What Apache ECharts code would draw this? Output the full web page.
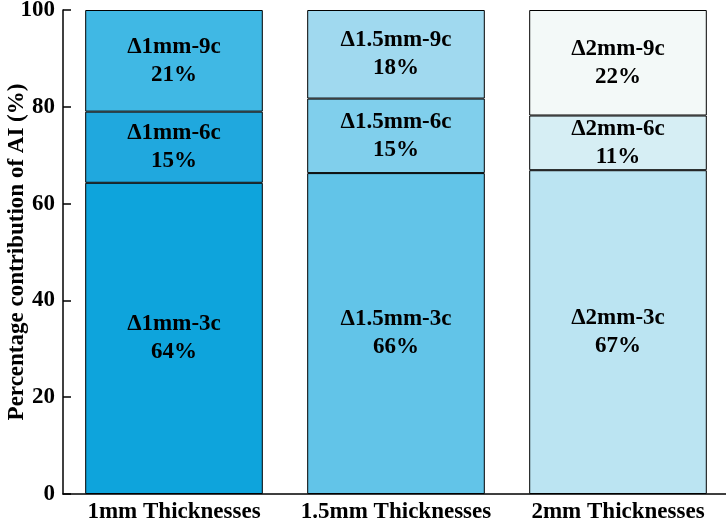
<!DOCTYPE html>
<html>
<head>
<meta charset="utf-8">
<script src="https://cdn.jsdelivr.net/npm/echarts@6/dist/echarts.min.js"></script>
<style>
  html, body { margin: 0; padding: 0; background: #fff; }
  #chart { width: 726px; height: 524px; }
</style>
</head>
<body>
<div id="chart"></div>
<script>
// categories and stacked values (percent contribution)
const categories = ['1mm Thicknesses', '1.5mm Thicknesses', '2mm Thicknesses']
const thickness = ['1mm', '1.5mm', '2mm']
const cycles = ['3c', '6c', '9c']
const values3c = [64.3, 66.3, 66.9]
const values6c = [14.7, 15.4, 11.3]
const values9c = [21.0, 18.3, 21.8]
const yTicks = [0, 20, 40, 60, 80, 100]

const colors = [
  ['#0ea4dc', '#62c4e8', '#bbe4f2'], // 3c
  ['#20a8de', '#80cfec', '#d6eef4'], // 6c
  ['#40b8e4', '#a0d9ef', '#f3f9f8']  // 9c
]

const font = '"Liberation Serif", "Times New Roman", serif'
const chart = echarts.init(document.getElementById('chart'))

const seriesValues = [values3c, values6c, values9c]

chart.setOption({
  animation: false,
  grid: { left: 63, right: -3, top: 10, bottom: 30, outerBoundsMode: 'none', containLabel: false },
  xAxis: {
    type: 'category',
    data: categories,
    axisLine: { lineStyle: { color: '#000', width: 1.5 } },
    axisTick: { show: false },
    axisLabel: {
      interval: 0,
      hideOverlap: false,
      color: '#000', fontFamily: font, fontWeight: 'bold', fontSize: 23, margin: 7
    }
  },
  yAxis: {
    type: 'value',
    min: yTicks[0],
    max: yTicks[yTicks.length - 1],
    interval: 20,
    name: 'Percentage contribution of AI (%)',
    nameLocation: 'middle',
    nameGap: 34,
    nameMoveOverlap: false,
    nameTextStyle: { color: '#000', fontFamily: font, fontWeight: 'bold', fontSize: 23 },
    axisLine: { show: true, lineStyle: { color: '#000', width: 1.5 } },
    axisTick: { show: true, inside: true, length: 8, lineStyle: { color: '#000', width: 1.5 } },
    splitLine: { show: false },
    axisLabel: {
      color: '#000', fontFamily: font, fontWeight: 'bold', fontSize: 23, margin: 8
    }
  },
  series: seriesValues.map((vals, s) => ({
    type: 'bar',
    stack: 'total',
    barWidth: '80%',
    name: cycles[s],
    data: vals.map((v, i) => ({
      value: v,
      itemStyle: { color: colors[s][i], borderColor: '#000', borderWidth: 1 }
    })),
    label: {
      show: true,
      position: 'inside',
      color: '#000',
      fontFamily: font,
      fontWeight: 'bold',
      fontSize: 23,
      lineHeight: 28,
      formatter: p => '\u0394' + thickness[p.dataIndex] + '-' + cycles[s] + '\n' + Math.round(p.value) + '%'
    }
  }))
})
</script>
</body>
</html>
